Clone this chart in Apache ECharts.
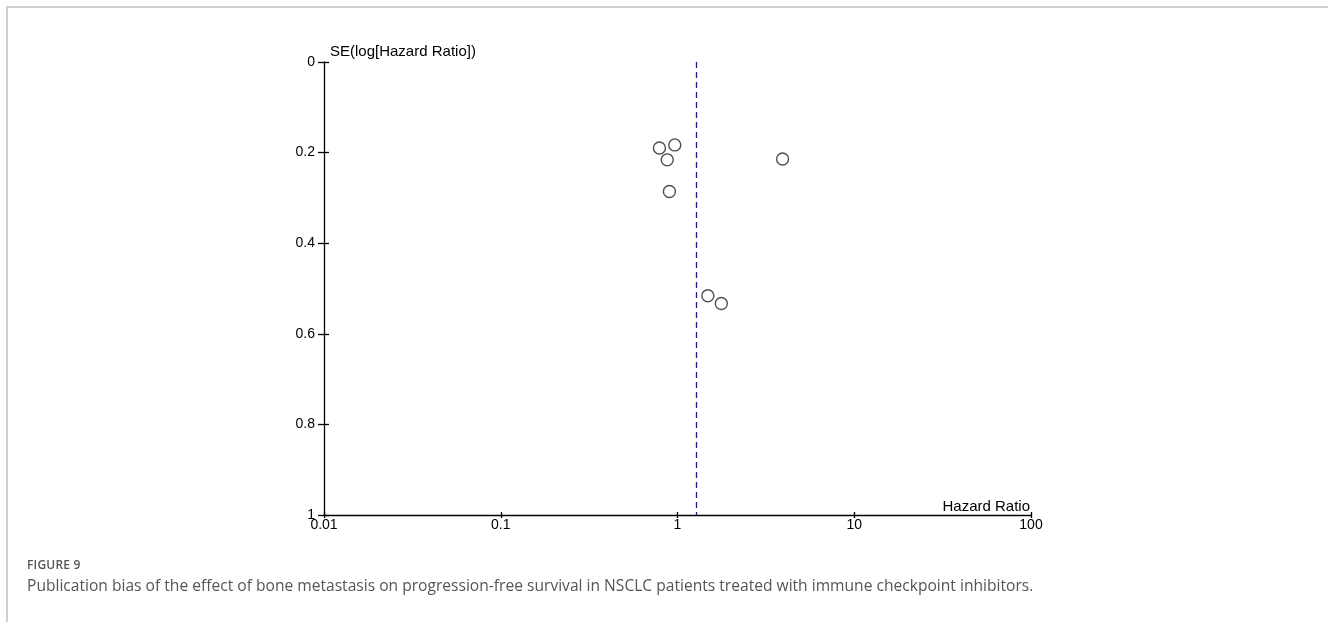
<!DOCTYPE html>
<html>
<head>
<meta charset="utf-8">
<script src="https://cdn.jsdelivr.net/npm/echarts@6/dist/echarts.min.js"></script>
<style>
  html, body { margin: 0; padding: 0; background: #fff; }
  #frame {
    position: absolute; left: 6px; top: 6px; right: 0; bottom: 0;
    border-top: 2px solid #cfcfcf; border-left: 2px solid #cfcfcf;
  }
  #chart { position: absolute; left: 0; top: 0; width: 1328px; height: 622px; }
  .caption { position: absolute; left: 27px; font-family: "Open Sans", Lato, sans-serif; color: #555; }
  #figno { top: 556px; font-size: 12px; letter-spacing: 0.2px; font-weight: 600; }
  #figtext { top: 574px; font-size: 15.6px; }
</style>
</head>
<body>
<div id="frame"></div>
<div id="chart"></div>
<div class="caption" id="figno">FIGURE 9</div>
<div class="caption" id="figtext">Publication bias of the effect of bone metastasis on progression-free survival in NSCLC patients treated with immune checkpoint inhibitors.</div>
<script>
// study estimates
const hazardRatio = [0.79, 0.965, 0.875, 0.90, 3.93, 1.485, 1.77]
const seLogHR = [0.190, 0.183, 0.216, 0.286, 0.214, 0.516, 0.533]
const pooledHR = 1.28

const xTickLabels = ['0.01', '0.1', '1', '10', '100']
const yTickLabels = ['0', '0.2', '0.4', '0.6', '0.8', '1']

const chart = echarts.init(document.getElementById('chart'))

const font = '"Liberation Sans", Arial, sans-serif'

// second copy of each axis just to draw the inner half of the ticks
const xBase = {
  type: 'log',
  logBase: 10,
  min: 0.01,
  max: 100,
  position: 'bottom',
  splitLine: { show: false }
}
const yBase = {
  type: 'value',
  min: 0,
  max: 1,
  interval: 0.2,
  inverse: true,
  position: 'left',
  splitLine: { show: false }
}

const option = {
  animation: false,
  grid: { left: 324, right: 297, top: 62, bottom: 107 },
  xAxis: [
    {
      ...xBase,
      name: 'Hazard Ratio',
      nameLocation: 'end',
      nameGap: -1,
      nameTextStyle: { color: '#000', fontFamily: font, fontSize: 15, align: 'right', verticalAlign: 'bottom', padding: [0, 0, 1, 0] },
      axisLine: { onZero: false, lineStyle: { color: '#000', width: 1.3 } },
      axisTick: { inside: false, length: 3, lineStyle: { color: '#000', width: 1.3 } },
      axisLabel: {
        color: '#000', fontFamily: font, fontSize: 14, margin: 3,
        formatter: (v) => xTickLabels[Math.round(Math.log10(v)) + 2]
      }
    },
    {
      ...xBase,
      axisLine: { show: false, onZero: false },
      axisTick: { inside: true, length: 3, lineStyle: { color: '#000', width: 1.3 } },
      axisLabel: { show: false }
    }
  ],
  yAxis: [
    {
      ...yBase,
      name: 'SE(log[Hazard Ratio])',
      nameLocation: 'start',
      nameGap: 3,
      nameTextStyle: { color: '#000', fontFamily: font, fontSize: 15, align: 'left', verticalAlign: 'bottom', padding: [0, 0, 0, 6] },
      axisLine: { onZero: false, lineStyle: { color: '#000', width: 1.3 } },
      axisTick: { inside: false, length: 6, lineStyle: { color: '#000', width: 1.3 } },
      axisLabel: {
        color: '#000', fontFamily: font, fontSize: 14, margin: 9,
        formatter: (v) => yTickLabels[Math.round(v * 5)]
      }
    },
    {
      ...yBase,
      axisLine: { show: false, onZero: false },
      axisTick: { inside: true, length: 5, lineStyle: { color: '#000', width: 1.3 } },
      axisLabel: { show: false }
    }
  ],
  series: [
    {
      type: 'scatter',
      xAxisIndex: 0,
      yAxisIndex: 0,
      symbol: 'circle',
      symbolSize: 12,
      itemStyle: { color: 'rgba(255,255,255,0)', borderColor: '#222', borderWidth: 1.4 },
      data: hazardRatio.map((hr, i) => [hr, seLogHR[i]]),
      markLine: {
        silent: true,
        symbol: 'none',
        label: { show: false },
        lineStyle: { color: '#1c1c8a', width: 1.3, type: [6, 4] },
        data: [{ xAxis: pooledHR }]
      }
    }
  ]
}

chart.setOption(option)
</script>
</body>
</html>
